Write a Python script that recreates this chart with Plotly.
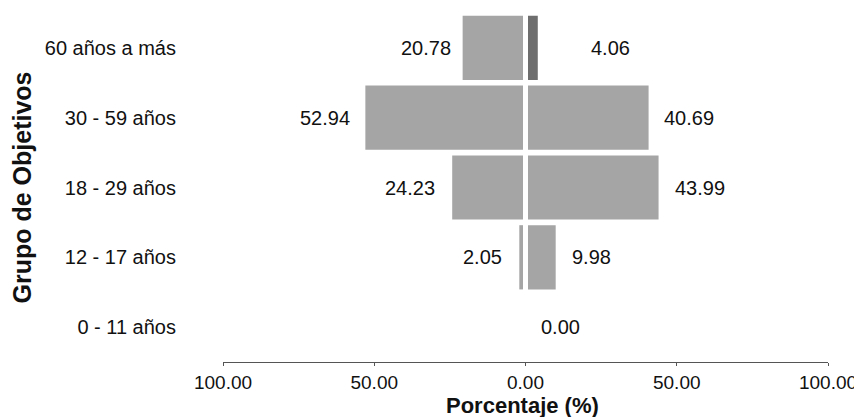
import plotly.graph_objects as go

# ---- data ----
groups = ["0 - 11 años", "12 - 17 años", "18 - 29 años", "30 - 59 años", "60 años a más"]
left_values = [0.00, 2.05, 24.23, 52.94, 20.78]
right_values = [0.00, 9.98, 43.99, 40.69, 4.06]
left_labels = ["", "2.05", "24.23", "52.94", "20.78"]
right_labels = ["0.00", "9.98", "43.99", "40.69", "4.06"]
tick_values = [-100, -50, 0, 50, 100]
tick_labels = ["100.00", "50.00", "0.00", "50.00", "100.00"]
x_title = "Porcentaje (%)"
y_title = "Grupo de Objetivos"

# ---- styles ----
FONT = "Liberation Sans, Arial, sans-serif"
BAR = "#a5a5a5"
right_colors = [BAR, BAR, BAR, BAR, "#6e6e6e"]
left_gaps = [15, 15, 15, 13, 10]
right_gaps = [13, 14, 14, 13, 51]

fig = go.Figure()
fig.add_trace(go.Bar(
    y=groups, x=[-v for v in left_values], orientation="h",
    marker=dict(color=BAR, line=dict(width=0)), showlegend=False, hoverinfo="skip",
))
fig.add_trace(go.Bar(
    y=groups, x=right_values, orientation="h",
    marker=dict(color=right_colors, line=dict(width=0)), showlegend=False, hoverinfo="skip",
))

annotations = []
for g, v, t, gap in zip(groups, left_values, left_labels, left_gaps):
    if t:
        annotations.append(dict(x=-v, y=g, xref="x", yref="y", text=t, showarrow=False,
                                xanchor="right", xshift=-gap,
                                font=dict(family=FONT, size=20, color="#111")))
for g, v, t, gap in zip(groups, right_values, right_labels, right_gaps):
    annotations.append(dict(x=v, y=g, xref="x", yref="y", text=t, showarrow=False,
                            xanchor="left", xshift=gap,
                            font=dict(family=FONT, size=20, color="#111")))
# x-axis title, just under the tick labels
annotations.append(dict(x=0.495, y=0, xref="paper", yref="paper", text="<b>%s</b>" % x_title,
                        showarrow=False, xanchor="center", yanchor="middle", yshift=-43,
                        font=dict(family=FONT, size=22, color="#111")))

# the page body has an 8px margin, so the figure is 8px smaller than the window
fig.update_layout(
    width=854, height=409,
    margin=dict(l=215, r=34, t=5, b=55, autoexpand=False),
    paper_bgcolor="white", plot_bgcolor="white",
    barmode="overlay", bargap=0.08,
    font=dict(family=FONT, size=20, color="#111"),
    annotations=annotations,
    shapes=[dict(type="line", xref="x", yref="y", x0=0, x1=0, y0=-0.42, y1=4.5,
                 line=dict(color="white", width=5), layer="above")],
)
fig.update_xaxes(
    range=[-100, 100], tickvals=tick_values, ticktext=tick_labels,
    showgrid=False, zeroline=False, showline=True, linecolor="#555", linewidth=1.2,
    ticks="outside", ticklen=3, tickcolor="#555", ticklabelstandoff=0,
    tickfont=dict(family=FONT, size=19, color="#111"),
    automargin=False, fixedrange=True,
)
fig.update_yaxes(
    range=[-0.5, 4.5], categoryorder="array", categoryarray=groups,
    showgrid=False, zeroline=False, showline=False, ticks="",
    ticklabelstandoff=46,
    tickfont=dict(family=FONT, size=20, color="#111"),
    title=dict(text="<b>%s</b>" % y_title, standoff=8,
               font=dict(family=FONT, size=25, color="#111")),
    automargin=False, fixedrange=True,
)

fig.write_html("out.html", config=dict(displayModeBar=False))
